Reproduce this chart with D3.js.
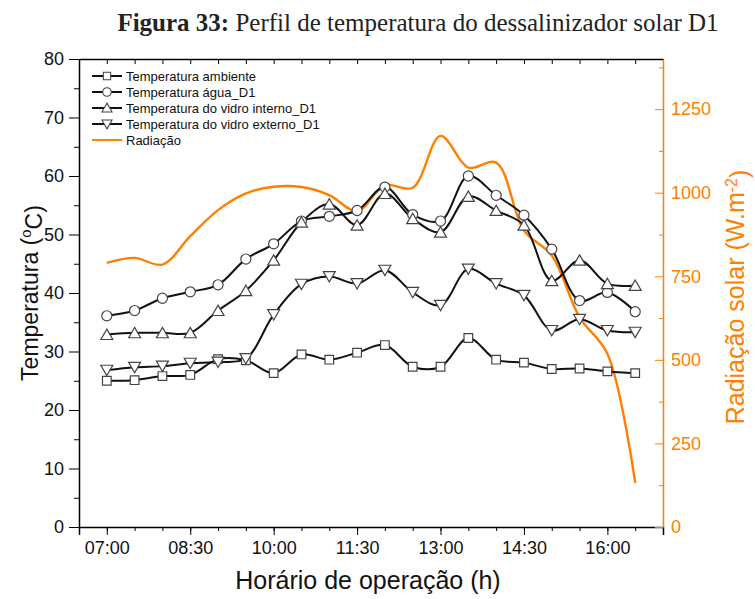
<!DOCTYPE html>
<html>
<head>
<meta charset="utf-8">
<script src="https://cdn.jsdelivr.net/npm/d3@7"></script>
<style>
  body { margin: 0; background: #fff; }
  svg { display: block; }
</style>
</head>
<body>
<svg id="chart" width="755" height="599"></svg>
<script>
// ---------- data ----------
const times = ["07:00","07:30","08:00","08:30","09:00","09:30","10:00","10:30","11:00","11:30",
               "12:00","12:30","13:00","13:30","14:00","14:30","15:00","15:30","16:00","16:30"];
const tAmbiente = [25.0, 25.1, 25.8, 26.0, 28.7, 28.5, 26.3, 29.5, 28.6, 29.8,
                   31.1, 27.4, 27.4, 32.3, 28.6, 28.1, 27.0, 27.1, 26.6, 26.3];
const tAgua     = [36.1, 37.0, 39.1, 40.2, 41.4, 45.8, 48.4, 52.3, 53.1, 54.1,
                   58.1, 53.4, 52.3, 60.0, 56.7, 53.3, 47.5, 38.7, 40.1, 36.8];
const tInterno  = [32.9, 33.2, 33.2, 33.2, 37.0, 40.4, 45.6, 52.1, 55.2, 51.6,
                   57.0, 52.7, 50.4, 56.5, 54.1, 51.6, 42.1, 45.6, 41.6, 41.3];
const tExterno  = [26.8, 27.3, 27.5, 28.0, 28.2, 28.8, 36.3, 41.5, 42.8, 41.6,
                   43.9, 40.1, 37.9, 44.1, 41.6, 39.6, 33.6, 35.5, 33.6, 33.3];
const radiacao  = [790, 805, 785, 870, 948, 998, 1018, 1017, 993, 945,
                   1022, 1015, 1170, 1075, 1090, 887, 812, 627, 518, 132];

const xTickLabels = ["07:00","08:30","10:00","11:30","13:00","14:30","16:00"];
const yLeftTicks  = [0, 10, 20, 30, 40, 50, 60, 70, 80];
const yRightTicks = [0, 250, 500, 750, 1000, 1250];

const legendNames = ["Temperatura ambiente", "Temperatura água_D1",
                     "Temperatura do vidro interno_D1", "Temperatura do vidro externo_D1", "Radiação"];

// ---------- layout ----------
const L = 79, R = 663, T = 59, B = 527;
const ORANGE = "#ff8000";
const FONT = "'Liberation Sans', Arial, sans-serif";
const toMin = s => { const [h, m] = s.split(":").map(Number); return h * 60 + m; };

const svg = d3.select("#chart");
const x = d3.scaleLinear().domain([toMin("06:30"), toMin("17:00")]).range([L, R]);
const y = d3.scaleLinear().domain([0, 80]).range([B, T]);
const y2 = d3.scaleLinear().domain([0, 1400]).range([B, T]);

// ---------- title ----------
const title = svg.append("text").attr("x", 418).attr("y", 31).attr("text-anchor", "middle")
  .style("font-family", "'Liberation Serif', 'Times New Roman', serif").style("font-size", "25px").attr("fill", "#222");
title.append("tspan").attr("font-weight", "bold").text("Figura 33:");
title.append("tspan").text(" Perfil de temperatura do dessalinizador solar D1");

// ---------- axes ----------
const fmt = m => { const h = Math.floor(m / 60), mm = m % 60; return String(h).padStart(2, "0") + ":" + String(mm).padStart(2, "0"); };
const minorX = d3.range(toMin("06:30"), toMin("17:00") + 1, 30);

// bottom minor
svg.append("g").attr("transform", `translate(0,${B})`)
  .call(d3.axisBottom(x).tickValues(minorX).tickSize(4).tickFormat(""))
  .call(g => g.select(".domain").remove());
// bottom major
const gx = svg.append("g").attr("transform", `translate(0,${B})`)
  .call(d3.axisBottom(x).tickValues(xTickLabels.map(toMin)).tickSize(8).tickPadding(6).tickFormat(fmt));
gx.selectAll("text").style("font-family", FONT).style("font-size", "18px").attr("fill", "#111");
gx.select(".domain").attr("stroke", "#000").attr("stroke-width", 1.5);

// top axis (inward ticks)
const gt = svg.append("g").attr("transform", `translate(0,${T})`)
  .call(d3.axisBottom(x).tickValues(minorX).tickSize(5).tickSizeOuter(0).tickFormat(""));
gt.select(".domain").attr("stroke-width", 1.5);

// left minor
svg.append("g").attr("transform", `translate(${L},0)`)
  .call(d3.axisLeft(y).tickValues(d3.range(5, 80, 10)).tickSize(5).tickFormat(""))
  .call(g => g.select(".domain").remove());
const gy = svg.append("g").attr("transform", `translate(${L},0)`)
  .call(d3.axisLeft(y).tickValues(yLeftTicks).tickSize(10).tickSizeOuter(0).tickPadding(5));
gy.selectAll("text").style("font-family", FONT).style("font-size", "18px").attr("fill", "#111");
gy.select(".domain").attr("stroke-width", 1.5);

// right axis (orange, inward ticks)
svg.append("g").attr("transform", `translate(${R},0)`)
  .call(d3.axisLeft(y2).tickValues(d3.range(125, 1400, 250)).tickSize(4).tickFormat(""))
  .call(g => g.select(".domain").remove())
  .call(g => g.selectAll("line").attr("stroke", ORANGE));
const gr = svg.append("g").attr("transform", `translate(${R},0)`)
  .call(d3.axisLeft(y2).tickValues(yRightTicks).tickSize(8).tickSizeOuter(0).tickFormat(""));
gr.selectAll("line").attr("stroke", ORANGE);
gr.select(".domain").attr("stroke", ORANGE).attr("stroke-width", 1.5);
svg.append("g").selectAll("text").data(yRightTicks).join("text")
  .attr("x", R + 8).attr("y", d => y2(d)).attr("dy", "0.35em")
  .style("font-family", FONT).style("font-size", "18px").attr("fill", ORANGE).text(d => d);

// axis titles
svg.append("text").attr("x", 368).attr("y", 589).attr("text-anchor", "middle")
  .style("font-family", FONT).style("font-size", "25px").attr("fill", "#111").text("Horário de operação (h)");
const yt = svg.append("text").attr("transform", "translate(38,293) rotate(-90)").attr("text-anchor", "middle")
  .style("font-family", FONT).style("font-size", "23px").attr("fill", "#111");
yt.append("tspan").text("Temperatura (");
yt.append("tspan").attr("dy", "-0.45em").style("font-size", "15px").text("o");
yt.append("tspan").attr("dy", "0.45em").text("C)");
const rt = svg.append("text").attr("transform", "translate(744,297) rotate(-90)").attr("text-anchor", "middle")
  .style("font-family", FONT).style("font-size", "25px").attr("fill", ORANGE);
rt.append("tspan").text("Radiação solar (W.m");
rt.append("tspan").attr("dy", "-0.45em").style("font-size", "16px").text("-2");
rt.append("tspan").attr("dy", "0.45em").text(")");

// ---------- series ----------
const tx = times.map(toMin);
const curve = d3.curveCatmullRom.alpha(0.5);
const lineL = d3.line().x((d, i) => x(tx[i])).y(d => y(d)).curve(curve);
const lineR = d3.line().x((d, i) => x(tx[i])).y(d => y2(d)).curve(curve);

const symSquare = d3.symbol().type(d3.symbolSquare).size(75);
const symCircle = d3.symbol().type(d3.symbolCircle).size(80);
const symTri = d3.symbol().type(d3.symbolTriangle).size(62);

const series = [
  { data: tAmbiente, sym: symSquare, rot: 0 },
  { data: tAgua, sym: symCircle, rot: 0 },
  { data: tInterno, sym: symTri, rot: 0 },
  { data: tExterno, sym: symTri, rot: 180 }
];

// radiation line
svg.append("path").datum(radiacao).attr("d", lineR).attr("fill", "none")
  .attr("stroke", ORANGE).attr("stroke-width", 2.4);

series.forEach(s => {
  svg.append("path").datum(s.data).attr("d", lineL).attr("fill", "none")
    .attr("stroke", "#111").attr("stroke-width", 2);
});
series.forEach(s => {
  svg.append("g").selectAll("path").data(s.data).join("path")
    .attr("d", s.sym())
    .attr("transform", (d, i) => `translate(${x(tx[i])},${y(d) + (s.rot ? -1.5 : (s.sym === symTri ? 1.5 : 0))}) rotate(${s.rot})`)
    .attr("fill", "#fff").attr("stroke", "#444").attr("stroke-width", 1.2);
});

// ---------- legend ----------
const lg = svg.append("g");
const legY = [76, 92, 108, 124, 140];
legendNames.forEach((name, i) => {
  const yy = legY[i];
  lg.append("line").attr("x1", 92).attr("x2", 122).attr("y1", yy).attr("y2", yy)
    .attr("stroke", i === 4 ? ORANGE : "#111").attr("stroke-width", 2);
  if (i < 4) {
    const s = series[i];
    lg.append("path").attr("d", s.sym())
      .attr("transform", `translate(107,${yy + (s.rot ? -1 : (s.sym === symTri ? 1 : 0))}) rotate(${s.rot}) scale(0.85)`)
      .attr("fill", "#fff").attr("stroke", "#444").attr("stroke-width", 1.2);
  }
  lg.append("text").attr("x", 126).attr("y", yy).attr("dy", "0.35em")
    .style("font-family", FONT).style("font-size", "13px").attr("fill", "#111").text(name);
});
</script>
</body>
</html>
